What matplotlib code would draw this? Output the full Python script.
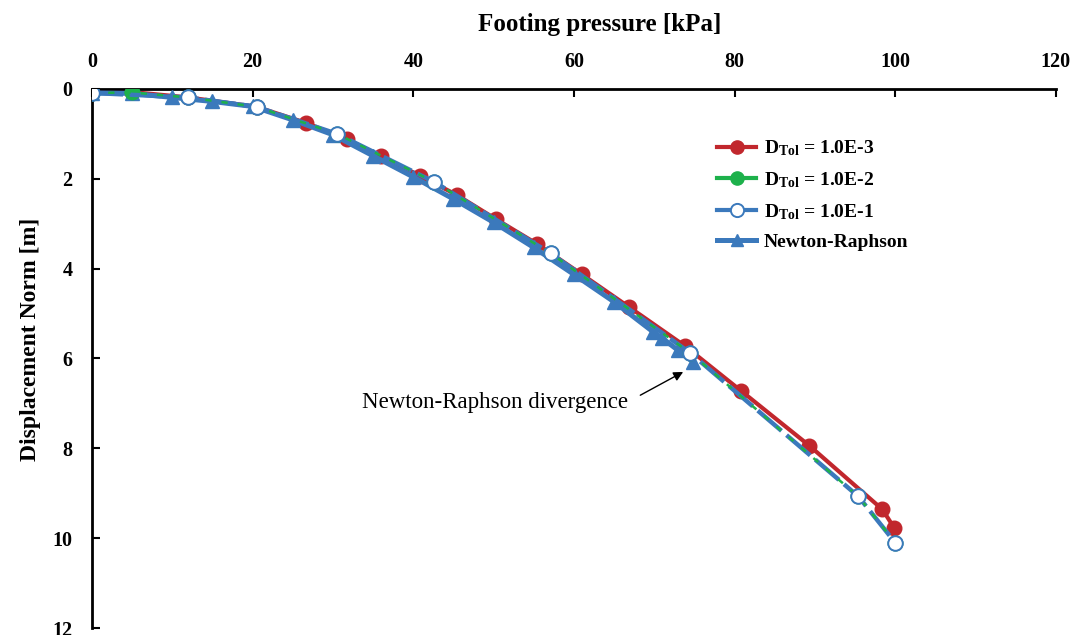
import matplotlib
matplotlib.use("Agg")
import matplotlib.pyplot as plt
from matplotlib.lines import Line2D

plt.rcParams['font.family'] = ['Liberation Serif', 'DejaVu Serif']
plt.rcParams['mathtext.fontset'] = 'custom'
plt.rcParams['mathtext.rm'] = 'Liberation Serif:bold'
plt.rcParams['mathtext.bf'] = 'Liberation Serif:bold'
plt.rcParams['mathtext.it'] = 'Liberation Serif:bold'

# Data
red_x = [0, 5, 12, 20.5, 26.7, 31.7, 36.0, 40.8, 45.4, 50.3, 55.4, 61.0, 66.9, 73.8, 80.8, 89.3, 98.4, 99.9]
red_y = [0, 0.07, 0.19, 0.40, 0.76, 1.12, 1.50, 1.93, 2.36, 2.90, 3.45, 4.13, 4.86, 5.72, 6.72, 7.94, 9.36, 9.78]

green_x = [0, 5, 12, 20.5, 30.5, 42.6, 57.1, 74.5, 95.4, 100]
green_y = [0.09, 0.08, 0.19, 0.40, 1.00, 2.07, 3.66, 5.88, 9.07, 10.1]

blue_x = [0, 12, 20.5, 30.5, 42.6, 57.1, 74.5, 95.4, 100]
blue_y = [0.09, 0.19, 0.40, 1.00, 2.07, 3.66, 5.88, 9.07, 10.1]

nr_x = [0, 5, 10, 15, 20, 25, 30, 35, 40, 45, 50, 55, 60, 65, 69.8, 71.0, 72.9, 74.8]
nr_y = [0.09, 0.10, 0.19, 0.28, 0.39, 0.69, 1.02, 1.49, 1.96, 2.45, 2.97, 3.53, 4.13, 4.74, 5.40, 5.55, 5.81, 6.07]

labels = [r'D$_{\mathrm{Tol}}$ = 1.0E-3', r'D$_{\mathrm{Tol}}$ = 1.0E-2',
          r'D$_{\mathrm{Tol}}$ = 1.0E-1', 'Newton-Raphson']
x_ticks = [0, 20, 40, 60, 80, 100, 120]
y_ticks = [0, 2, 4, 6, 8, 10, 12]

RED = '#C1272D'
GREEN = '#1DB14B'
BLUE = '#3B79BC'

fig = plt.figure(figsize=(10.77, 6.35), dpi=100)
ax = fig.add_axes([0.0854, 0.011, 0.895, 0.849])

MS = 10.5
ax.plot(red_x, red_y, color=RED, lw=3.0, marker='o', ms=MS, mec=RED, mfc=RED, zorder=2)
ax.plot(nr_x, nr_y, color=BLUE, lw=3.6, marker='^', ms=9.5, mec=BLUE, mfc=BLUE, zorder=3)
# green markers below the open circles, green dashes over the blue lines
ax.plot(green_x, green_y, ls='none', marker='o', ms=MS, mec=GREEN, mfc=GREEN, zorder=4)
ax.plot(blue_x, blue_y, color=BLUE, lw=3.2, ls=(0, (7, 1.5)), zorder=5)
ax.plot(green_x, green_y, color=GREEN, lw=1.8, ls=(0, (2.5, 4)), zorder=6)
ax.plot(blue_x, blue_y, ls='none', marker='o', ms=MS, mec=BLUE, mfc='white', mew=1.4, zorder=7)

h1 = Line2D([], [], color=RED, lw=3.0, marker='o', ms=9.5, mec=RED, mfc=RED)
h2 = Line2D([], [], color=GREEN, lw=3.0, marker='o', ms=9.5, mec=GREEN, mfc=GREEN)
h3 = Line2D([], [], color=BLUE, lw=3.0, marker='o', ms=9.5, mec=BLUE, mfc='white', mew=1.4)
h4 = Line2D([], [], color=BLUE, lw=3.6, marker='^', ms=8, mec=BLUE, mfc=BLUE)

ax.set_xlim(0, 120)
ax.set_ylim(12, 0)
ax.set_xticks(x_ticks)
ax.set_yticks(y_ticks)

ax.xaxis.set_ticks_position('top')
ax.xaxis.set_label_position('top')
for s in ['right', 'bottom']:
    ax.spines[s].set_visible(False)
for s in ['top', 'left']:
    ax.spines[s].set_linewidth(2.0)
ax.tick_params(direction='in', length=6, width=1.5, labelsize=14.5)
for t in ax.get_xticklabels() + ax.get_yticklabels():
    t.set_fontweight('bold')
ax.tick_params(axis='y', pad=14)
ax.tick_params(axis='x', pad=12)

ax.set_xlabel('Footing pressure [kPa]', fontsize=18, fontweight='bold')
ax.set_ylabel('Displacement Norm [m]', fontsize=17, fontweight='bold')
ax.xaxis.set_label_coords(0.527, 1.12)
ax.yaxis.set_label_coords(-0.064, 0.536)
ax.xaxis.label.set_va('center')
ax.yaxis.label.set_va('center')

ax.annotate('Newton-Raphson divergence', xy=(73.6, 6.30), xytext=(66.7, 6.97),
            ha='right', va='center', fontsize=16.5,
            arrowprops=dict(arrowstyle='-|>', color='black', lw=1.0, mutation_scale=14,
                            shrinkA=8, shrinkB=0, relpos=(1, 0.5)))

leg = ax.legend(handles=[h1, h2, h3, h4], labels=labels, loc='upper left',
                bbox_to_anchor=(0.6405, 0.9226),
                frameon=False, fontsize=14, handlelength=2.0, handletextpad=0.4,
                labelspacing=0.62, borderaxespad=0)
for t in leg.get_texts():
    t.set_fontweight('bold')

fig.savefig('out.png', dpi=100)
